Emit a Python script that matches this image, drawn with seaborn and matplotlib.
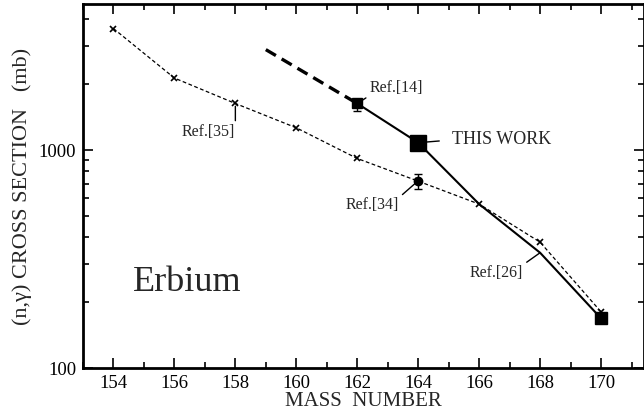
import numpy as np
import pandas as pd
import matplotlib
matplotlib.use("Agg")
import matplotlib.pyplot as plt
import matplotlib.ticker as mticker
import seaborn as sns

# DATA
ref35_mass = [154, 156, 158, 160, 162, 164, 166, 168, 170]
ref35_xs = [3610, 2140, 1636, 1265, 915, 720, 565, 378, 181]

this_mass = [162, 164, 166, 168, 170]
this_xs = [1636, 1081, 565, 338, 169]

extrap_mass = [159, 162]
extrap_xs = [2890, 1636]

ref14_mass, ref14_xs, ref14_err = 162, 1636, [[125], [85]]
ref34_mass, ref34_xs, ref34_err = 164, 723, [[62], [50]]
square_mass = [164, 170]
square_xs = [1081, 169]
square_size = [11, 9]

sns.set_theme(style="ticks")
plt.rcParams["font.family"] = ["Liberation Serif", "DejaVu Serif"]

fig = plt.figure(figsize=(6.44, 4.11), dpi=100)
ax = fig.add_axes([83 / 644, 43 / 411, 561 / 644, 364 / 411])

# Ref.[35] thin dashed line with x markers
sns.lineplot(x=ref35_mass, y=ref35_xs, ax=ax, color="black", lw=0.9,
             marker="x", markersize=5, markeredgewidth=1.2,
             markeredgecolor="black", sort=False)
ax.lines[-1].set_dashes([3, 2])

# thick dashed extrapolation
sns.lineplot(x=extrap_mass, y=extrap_xs, ax=ax, color="black", lw=2.4, sort=False)
ax.lines[-1].set_dashes([3.5, 2])

# solid line (this work and connected refs)
sns.lineplot(x=this_mass, y=this_xs, ax=ax, color="black", lw=1.5, sort=False)

# squares
for m, v, s in zip(square_mass, square_xs, square_size):
    ax.plot(m, v, marker="s", color="black", markersize=s, ls="none")

# Ref.[14] with error bar
ax.errorbar(ref14_mass, ref14_xs, yerr=ref14_err, fmt="s", color="black",
            markersize=7, capsize=3, elinewidth=1.0)
# Ref.[34] with error bar
ax.errorbar(ref34_mass, ref34_xs, yerr=ref34_err, fmt="o", color="black",
            markersize=6, capsize=3, elinewidth=1.0)

ax.set_yscale("log")
ax.set_xlim(153, 171.41)
ax.set_ylim(100, 4680)

ax.xaxis.set_major_locator(mticker.MultipleLocator(2))
ax.xaxis.set_minor_locator(mticker.MultipleLocator(1))
ax.yaxis.set_major_locator(mticker.LogLocator(base=10, subs=(1.0,)))
ax.yaxis.set_minor_locator(mticker.LogLocator(base=10, subs=np.arange(2, 10)))
ax.yaxis.set_major_formatter(mticker.FuncFormatter(lambda v, p: f"{v:.0f}"))
ax.yaxis.set_minor_formatter(mticker.NullFormatter())

ax.tick_params(which="both", direction="in", top=True, right=True,
               colors="black", labelsize=13.5, width=1.2)
ax.tick_params(which="major", length=7, pad=5)
ax.tick_params(which="minor", length=4)
for sp in ax.spines.values():
    sp.set_linewidth(2)
    sp.set_color("black")

ax.set_xlabel("MASS  NUMBER", fontsize=15, labelpad=0)
ax.set_ylabel("(n,γ) CROSS SECTION   (mb)", fontsize=16, labelpad=5)

# annotations
line_kw = dict(arrowstyle="-", color="black", lw=1.0)
ax.annotate("Ref.[35]", xy=(ref35_mass[2], ref35_xs[2]), xytext=(0, -20.5),
            textcoords="offset points", ha="right", va="center", fontsize=11.5,
            arrowprops=dict(**line_kw, relpos=(1, 0.5), shrinkA=0, shrinkB=2))
ax.annotate("Ref.[14]", xy=(ref14_mass, ref14_xs), xytext=(8.6, 5.5),
            textcoords="offset points", ha="left", va="bottom", fontsize=11.5,
            arrowprops=dict(**line_kw, relpos=(0, 0), shrinkA=0, shrinkB=4))
ax.annotate("THIS WORK", xy=(square_mass[0], square_xs[0]), xytext=(24.5, 2),
            textcoords="offset points", ha="left", va="center", fontsize=13,
            arrowprops=dict(**line_kw, relpos=(0, 0.5), shrinkA=7, shrinkB=0))
ax.annotate("Ref.[34]", xy=(ref34_mass, ref34_xs), xytext=(-13.7, -12),
            textcoords="offset points", ha="right", va="top", fontsize=11.5,
            arrowprops=dict(**line_kw, relpos=(1, 1), shrinkA=0, shrinkB=2))
ax.annotate("Ref.[26]", xy=(this_mass[3], this_xs[3]), xytext=(-12, -8.5),
            textcoords="offset points", ha="right", va="top", fontsize=11.5,
            arrowprops=dict(**line_kw, relpos=(1, 1), shrinkA=0, shrinkB=0))

ax.text(0.185, 0.234, "Erbium", transform=ax.transAxes, fontsize=26,
        ha="center", va="center")

fig.savefig("out.png", dpi=100)
